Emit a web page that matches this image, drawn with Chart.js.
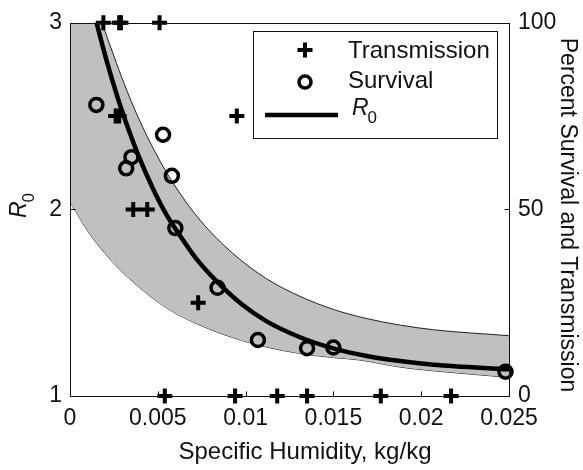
<!DOCTYPE html>
<html>
<head>
  <meta charset="UTF-8" />
  <title>R0 vs Specific Humidity</title>
  <script src="https://cdn.jsdelivr.net/npm/chart.js"></script>
  <style>
    body { margin: 0; background: #fff; }
    .chart-container { position: relative; width: 583px; height: 470px; }
  </style>
</head>
<body>
  <div class="chart-container">
    <canvas id="r0Chart"></canvas>
  </div>
  <script>
    // axis ticks
    const xTicks = [0, 0.005, 0.01, 0.015, 0.02, 0.025];
    const xTickLabels = ['0', '0.005', '0.01', '0.015', '0.02', '0.025'];
    const r0Ticks = [1, 2, 3];
    const pctTicks = [0, 50, 100];

    // transmission (percent, right axis)
    const transQ   = [0.0019, 0.0028, 0.0029, 0.0051, 0.0026, 0.0028, 0.0095, 0.0036, 0.0044, 0.0073, 0.0054, 0.0094, 0.0118, 0.0135, 0.0177, 0.0217];
    const transPct = [100, 100, 100, 100, 75, 75, 75, 50, 50, 25, 0, 0, 0, 0, 0, 0];

    // survival (percent, right axis)
    const survQ   = [0.0015, 0.0032, 0.0035, 0.0053, 0.0058, 0.0060, 0.0084, 0.0107, 0.0135, 0.0150, 0.0248];
    const survPct = [78, 61, 64, 70, 59, 45, 29, 15, 12.8, 13, 6.5];

    // fitted R0 curve (left axis), runs out through the top of the frame
    const curveQ  = [0.0011, 0.00154, 0.0021, 0.0027, 0.0031, 0.0039, 0.0047, 0.0055, 0.0063, 0.0072, 0.0084, 0.0098, 0.0112, 0.0131, 0.0150, 0.0169, 0.0188, 0.0207, 0.0250];
    const curveR0 = [3.16, 2.99, 2.792, 2.603, 2.49, 2.288, 2.116, 1.97, 1.855, 1.735, 1.61, 1.49, 1.40, 1.315, 1.255, 1.214, 1.187, 1.168, 1.143];

    // shaded band, upper and lower edges (left axis)
    const upperQ  = [0, 0.001, 0.00184, 0.0025, 0.0031, 0.0039, 0.0049, 0.0059, 0.0074, 0.0093, 0.0112, 0.0131, 0.0150, 0.0169, 0.0188, 0.0207, 0.0250];
    const upperR0 = [3.66, 3.28, 3.0, 2.822, 2.67, 2.49, 2.298, 2.137, 1.943, 1.762, 1.628, 1.534, 1.464, 1.415, 1.38, 1.355, 1.323];
    const lowerQ  = [0, 0.0011, 0.0024, 0.0040, 0.0057, 0.0074, 0.0093, 0.0112, 0.0131, 0.0150, 0.0165, 0.0188, 0.0215, 0.0250];
    const lowerR0 = [2.04, 1.872, 1.721, 1.578, 1.46, 1.38, 1.312, 1.262, 1.228, 1.206, 1.193, 1.155, 1.128, 1.10];

    const FONT = '"Liberation Sans", Arial, sans-serif';
    const INK = '#111';
    const pts = (xs, ys) => xs.map((x, i) => ({ x: x, y: ys[i] }));

    // draws box, inward ticks, axis titles and legend
    const overlay = {
      id: 'overlay',
      afterDraw(chart) {
        const { ctx, chartArea: a, scales } = chart;
        ctx.save();
        ctx.strokeStyle = INK;
        ctx.lineWidth = 1;
        const L = Math.round(a.left) + 0.5, R = Math.round(a.right) + 0.5;
        const T = Math.round(a.top) + 0.5, B = Math.round(a.bottom) + 0.5;
        ctx.strokeRect(L, T, R - L, B - T);

        ctx.beginPath();
        xTicks.forEach(v => {
          const px = Math.round(scales.x.getPixelForValue(v)) + 0.5;
          ctx.moveTo(px, B); ctx.lineTo(px, B - 5);
        });
        r0Ticks.forEach(v => {
          const py = Math.round(scales.y.getPixelForValue(v)) + 0.5;
          ctx.moveTo(L, py); ctx.lineTo(L + 5, py);
        });
        pctTicks.forEach(v => {
          const py = Math.round(scales.y2.getPixelForValue(v)) + 0.5;
          ctx.moveTo(R, py); ctx.lineTo(R - 5, py);
        });
        ctx.stroke();

        ctx.fillStyle = INK;
        ctx.textAlign = 'center';
        ctx.textBaseline = 'middle';
        ctx.font = '24px ' + FONT;
        ctx.fillText('Specific Humidity, kg/kg', 305, 452);

        ctx.save();
        ctx.translate(567, 215);
        ctx.rotate(Math.PI / 2);
        ctx.font = '23px ' + FONT;
        ctx.fillText('Percent Survival and Transmission', 0, 0);
        ctx.restore();

        // italic R with subscript 0
        const drawR0 = (x, y, rot) => {
          ctx.save();
          ctx.translate(x, y);
          if (rot) ctx.rotate(rot);
          ctx.textAlign = 'left';
          ctx.textBaseline = 'alphabetic';
          ctx.font = 'italic 23px ' + FONT;
          ctx.fillText('R', 0, 0);
          const w = ctx.measureText('R').width;
          ctx.font = '17px ' + FONT;
          ctx.fillText('0', w - 1, 8);
          ctx.restore();
        };
        drawR0(26, 218, -Math.PI / 2);

        // legend
        ctx.fillStyle = '#fff';
        ctx.fillRect(253.5, 31.5, 244, 107);
        ctx.strokeRect(253.5, 31.5, 244, 107);
        ctx.strokeStyle = '#000';
        ctx.lineWidth = 4;
        ctx.beginPath();
        ctx.moveTo(297.5, 50); ctx.lineTo(312.5, 50);
        ctx.moveTo(305, 42.5); ctx.lineTo(305, 57.5);
        ctx.stroke();
        ctx.lineWidth = 3.5;
        ctx.beginPath();
        ctx.arc(305, 82, 6, 0, Math.PI * 2);
        ctx.stroke();
        ctx.lineWidth = 4.5;
        ctx.beginPath();
        ctx.moveTo(265, 115); ctx.lineTo(338, 115);
        ctx.stroke();
        ctx.fillStyle = INK;
        ctx.textAlign = 'left';
        ctx.textBaseline = 'middle';
        ctx.font = '24px ' + FONT;
        ctx.fillText('Transmission', 348, 51);
        ctx.fillText('Survival', 348, 81);
        drawR0(352, 115, 0);
        ctx.restore();
      }
    };

    const tickFont = { family: FONT, size: 23 };

    new Chart(document.getElementById('r0Chart'), {
      type: 'scatter',
      data: {
        datasets: [
          {
            label: 'Transmission',
            data: pts(transQ, transPct),
            yAxisID: 'y2',
            pointStyle: 'cross',
            pointRadius: 7.5,
            pointBorderWidth: 4,
            borderColor: '#000',
            clip: false
          },
          {
            label: 'Survival',
            data: pts(survQ, survPct),
            yAxisID: 'y2',
            pointStyle: 'circle',
            pointRadius: 6.5,
            pointBorderWidth: 3.5,
            borderColor: '#000',
            backgroundColor: 'rgba(0,0,0,0)',
            clip: false
          },
          {
            label: 'R0',
            data: pts(curveQ, curveR0),
            yAxisID: 'y',
            showLine: true,
            borderColor: '#000',
            borderWidth: 4.5,
            pointRadius: 0,
            cubicInterpolationMode: 'monotone',
            clip: 0
          },
          {
            label: 'upper',
            data: pts(upperQ, upperR0),
            yAxisID: 'y',
            showLine: true,
            borderColor: '#222',
            borderWidth: 1,
            pointRadius: 0,
            cubicInterpolationMode: 'monotone',
            fill: '+1',
            backgroundColor: '#c0c0c0',
            clip: 0
          },
          {
            label: 'lower',
            data: pts(lowerQ, lowerR0),
            yAxisID: 'y',
            showLine: true,
            borderColor: '#222',
            borderWidth: 1,
            pointRadius: 0,
            cubicInterpolationMode: 'monotone',
            fill: false,
            clip: 0
          }
        ]
      },
      options: {
        responsive: true,
        maintainAspectRatio: false,
        animation: false,
        events: [],
        layout: { padding: { top: 19, right: 0, bottom: 0, left: 0 } },
        plugins: {
          legend: { display: false },
          tooltip: { enabled: false }
        },
        scales: {
          x: {
            type: 'linear',
            min: 0,
            max: 0.025,
            afterBuildTicks: s => { s.ticks = xTicks.map(v => ({ value: v })); },
            afterFit: s => { s.height = 74; },
            ticks: {
              callback: (v, i) => xTickLabels[i],
              font: tickFont, color: INK, padding: 9,
              maxRotation: 0, autoSkip: false
            },
            grid: { display: false, drawTicks: false },
            border: { display: false }
          },
          y: {
            position: 'left',
            min: 1,
            max: 3,
            afterBuildTicks: s => { s.ticks = r0Ticks.map(v => ({ value: v })); },
            afterFit: s => { s.width = 70; },
            ticks: { font: tickFont, color: INK, padding: 8 },
            grid: { display: false, drawTicks: false },
            border: { display: false }
          },
          y2: {
            position: 'right',
            min: 0,
            max: 100,
            afterBuildTicks: s => { s.ticks = pctTicks.map(v => ({ value: v })); },
            afterFit: s => { s.width = 74; },
            ticks: { font: tickFont, color: INK, padding: 9 },
            grid: { display: false, drawTicks: false },
            border: { display: false }
          }
        }
      },
      plugins: [overlay]
    });
  </script>
</body>
</html>
